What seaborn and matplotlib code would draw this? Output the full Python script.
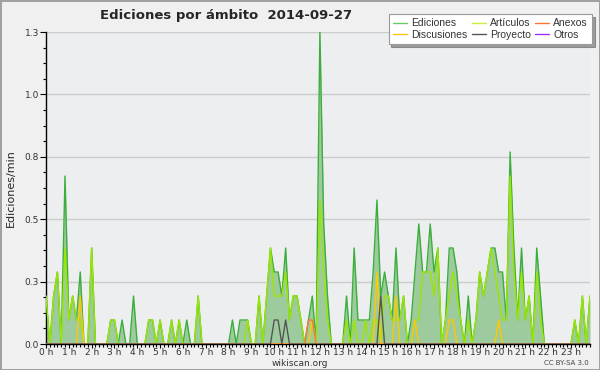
import numpy as np
import pandas as pd
import seaborn as sns
import matplotlib.pyplot as plt
from matplotlib.ticker import AutoMinorLocator, FixedLocator, MultipleLocator

# edits per minute, one value every 10 minutes (144 slots)
ediciones = [
    0.2, 0, 0.2, 0.3, 0, 0.7, 0.1, 0.2, 0.1, 0.3,
    0, 0, 0.4, 0, 0, 0, 0, 0.1, 0.1, 0,
    0.1, 0, 0, 0.2, 0, 0, 0, 0.1, 0.1, 0,
    0.1, 0, 0, 0.1, 0, 0.1, 0, 0.1, 0, 0,
    0.2, 0, 0, 0, 0, 0, 0, 0, 0, 0.1,
    0, 0.1, 0.1, 0.1, 0, 0, 0.2, 0, 0.2, 0.4,
    0.3, 0.3, 0.2, 0.4, 0.1, 0.2, 0.2, 0.1, 0, 0.1,
    0.2, 0, 1.3, 0.5, 0.2, 0, 0, 0, 0, 0.2,
    0, 0.4, 0.1, 0.1, 0.1, 0.1, 0.3, 0.6, 0.2, 0.3,
    0.2, 0.1, 0.4, 0.1, 0.2, 0, 0.1, 0.3, 0.5, 0.3,
    0.3, 0.5, 0.3, 0.4, 0, 0.1, 0.4, 0.4, 0.3, 0.1,
    0, 0.2, 0, 0.1, 0.3, 0.2, 0.3, 0.4, 0.4, 0.3,
    0.3, 0.1, 0.8, 0.4, 0.1, 0.4, 0.1, 0.2, 0, 0.4,
    0.2, 0, 0, 0, 0, 0, 0, 0, 0, 0.1,
    0, 0.2, 0, 0.2,
]
articulos = [
    0.2, 0, 0.2, 0.3, 0, 0.4, 0.1, 0.2, 0.1, 0.1,
    0, 0, 0.4, 0, 0, 0, 0, 0.1, 0.1, 0,
    0, 0, 0, 0, 0, 0, 0, 0.1, 0.1, 0,
    0.1, 0, 0, 0.1, 0, 0.1, 0, 0, 0, 0,
    0.2, 0, 0, 0, 0, 0, 0, 0, 0, 0,
    0, 0, 0, 0.1, 0, 0, 0.2, 0, 0.2, 0.4,
    0.2, 0.2, 0.2, 0.3, 0.1, 0.2, 0.2, 0.1, 0, 0,
    0, 0, 0.6, 0.3, 0.1, 0, 0, 0, 0, 0.1,
    0, 0.1, 0, 0, 0.1, 0, 0.1, 0.1, 0, 0.2,
    0.2, 0.1, 0.1, 0.1, 0.2, 0, 0, 0.1, 0.1, 0.3,
    0.3, 0.3, 0.2, 0.4, 0, 0.1, 0.2, 0.3, 0.2, 0.1,
    0, 0.1, 0, 0.1, 0.3, 0.2, 0.3, 0.4, 0.3, 0.2,
    0.1, 0.1, 0.7, 0.3, 0.1, 0.3, 0.1, 0.2, 0, 0.3,
    0.1, 0, 0, 0, 0, 0, 0, 0, 0, 0.1,
    0, 0.2, 0, 0.2,
]
# sparse series: slot -> value
discusiones_pts = {9: 0.2, 70: 0.1, 87: 0.3, 92: 0.2, 97: 0.1, 106: 0.1, 107: 0.1, 119: 0.1}
anexos_pts = {69: 0.1, 70: 0.1}
proyecto_pts = {60: 0.1, 61: 0.1, 63: 0.1, 88: 0.2}
otros_pts = {}

n = len(ediciones)
hours = np.arange(n) / 6


def expand(pts):
    return [pts.get(i, 0) for i in range(n)]


df = pd.DataFrame({
    "hora": hours,
    "Ediciones": ediciones,
    "Artículos": articulos,
    "Discusiones": expand(discusiones_pts),
    "Anexos": expand(anexos_pts),
    "Proyecto": expand(proyecto_pts),
    "Otros": expand(otros_pts),
})

colors = {
    "Ediciones": "#3cae3c",
    "Artículos": "#9be600",
    "Anexos": "#ff7733",
    "Discusiones": "#ffc800",
    "Proyecto": "#555555",
    "Otros": "#9933ff",
}
legend_colors = dict(colors, Ediciones="#66cc66", Artículos="#c6f03c")

sns.set_theme(style="ticks")
plt.rcParams["font.family"] = ["DejaVu Sans"]

fig = plt.figure(figsize=(6, 3.7), dpi=100, facecolor="#f0f0f0",
                 edgecolor="#a0a0a0", linewidth=2)
ax = fig.add_axes([46 / 600, 1 - 344 / 370, 544 / 600, 312 / 370])
ax.set_facecolor("#eceef0")

ax.fill_between(df["hora"], df["Ediciones"], 0, color="#9ecb9e", lw=0, zorder=2)
sns.lineplot(data=df, x="hora", y="Ediciones", ax=ax, color=colors["Ediciones"],
             linewidth=1.0, zorder=3)
for name in ["Otros", "Artículos", "Discusiones", "Anexos", "Proyecto"]:
    sns.lineplot(data=df, x="hora", y=name, ax=ax, color=colors[name],
                 linewidth=1.0, zorder=4)

ymax = 1.3
ax.set_xlim(0, hours[-1])
ax.set_ylim(0, ymax)
yt = np.linspace(0, ymax, 6)
ax.yaxis.set_major_locator(FixedLocator(yt))
ax.set_yticklabels([f"{v:.1f}" for v in yt])
ax.yaxis.set_minor_locator(AutoMinorLocator(4))
ax.set_xticks(range(24))
ax.set_xticklabels([f"{h} h" for h in range(24)])
ax.xaxis.set_minor_locator(MultipleLocator(1 / 6))
ax.grid(axis="y", color="#cccccc", lw=1)
ax.set_axisbelow(True)
for s in ["top", "right"]:
    ax.spines[s].set_visible(False)
for s in ["left", "bottom"]:
    ax.spines[s].set_color("black")
    ax.spines[s].set_linewidth(1)
ax.tick_params(axis="y", which="major", labelsize=6.5, colors="black",
               labelcolor="#333333", length=4, width=0.8, pad=1)
ax.tick_params(axis="x", which="major", labelsize=6.5, colors="black",
               labelcolor="#333333", length=3, width=0.8, pad=0)
ax.tick_params(axis="both", which="minor", length=2.5, width=0.8, colors="black")
ax.set_xlabel("")
ax.set_ylabel("Ediciones/min", fontsize=8, labelpad=6)

fig.text(100 / 600, 1 - 16 / 370, "Ediciones por ámbito  2014-09-27",
         fontsize=9.5, fontweight="bold", va="center", ha="left")
fig.text(300 / 600, 1 - 363 / 370, "wikiscan.org", fontsize=6.5,
         ha="center", va="center", color="#333333")
fig.text(589 / 600, 1 - 363 / 370, "CC BY-SA 3.0", fontsize=5,
         ha="right", va="center", color="#444444")

labels = ["Ediciones", "Discusiones", "Artículos", "Proyecto", "Anexos", "Otros"]
handles = [plt.Line2D([], [], color=legend_colors[lab], lw=1) for lab in labels]
leg = fig.legend(handles, labels, ncol=3, loc="upper right",
                 bbox_to_anchor=(597 / 600, 1 - 9 / 370),
                 prop={"family": ["Liberation Sans", "DejaVu Sans"], "size": 7.5},
                 frameon=True, fancybox=False, shadow=True, borderpad=0.4,
                 labelspacing=0.15, columnspacing=0.4, handlelength=1.4,
                 handletextpad=0.35)
leg.get_frame().set_edgecolor("#999999")
leg.get_frame().set_linewidth(0.8)
for t in leg.get_texts():
    t.set_color("#333333")

fig.savefig("out.png", dpi=100, facecolor=fig.get_facecolor(),
            edgecolor=fig.get_edgecolor())
